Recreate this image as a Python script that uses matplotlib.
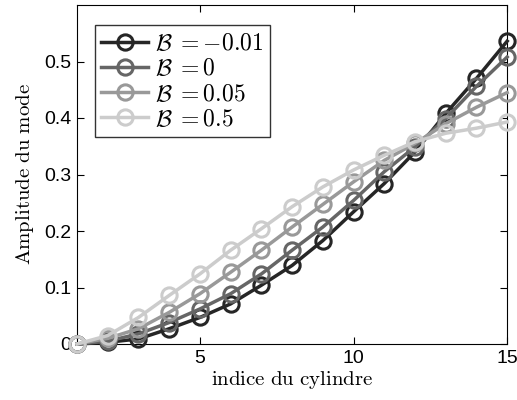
import numpy as np
import matplotlib
matplotlib.use("Agg")
import matplotlib.pyplot as plt
from matplotlib.ticker import FuncFormatter

plt.rcParams['mathtext.fontset'] = 'cm'

# indice du cylindre
indice = np.arange(1, 16)

# amplitudes
amp_m001 = [0.000, 0.003, 0.009, 0.027, 0.047, 0.071, 0.104, 0.139, 0.183, 0.234, 0.284, 0.340, 0.408, 0.470, 0.536]
amp_0    = [0.000, 0.005, 0.018, 0.038, 0.062, 0.089, 0.124, 0.166, 0.207, 0.254, 0.305, 0.349, 0.399, 0.456, 0.508]
amp_005  = [0.000, 0.010, 0.027, 0.056, 0.089, 0.127, 0.166, 0.207, 0.247, 0.287, 0.325, 0.355, 0.390, 0.419, 0.445]
amp_05   = [0.000, 0.015, 0.047, 0.086, 0.124, 0.166, 0.204, 0.243, 0.278, 0.308, 0.334, 0.358, 0.373, 0.382, 0.393]

series = [amp_m001, amp_0, amp_005, amp_05]
labels = [r'$\mathcal{B}\;={-}0.01$', r'$\mathcal{B}\;=0$', r'$\mathcal{B}\;=0.05$', r'$\mathcal{B}\;=0.5$']
couleurs = ['#262626', '#666666', '#999999', '#cccccc']

fig = plt.figure(figsize=(5.17, 4.0), dpi=100)
ax = fig.add_axes([0.149, 0.14, 0.832, 0.8475])

for y, lab, c in zip(series, labels, couleurs):
    ax.plot(indice, y, '-o', color=c, lw=2.5, markersize=11, mew=2.2,
            markerfacecolor='none', label=lab, clip_on=False, zorder=3)

ax.set_xlim(1, 15)
ax.set_ylim(0, 0.6)
ax.set_xticks([5, 10, 15])
ax.set_yticks([0, 0.1, 0.2, 0.3, 0.4, 0.5])
ax.yaxis.set_major_formatter(FuncFormatter(lambda v, p: '0' if v == 0 else '%g' % v))
ax.tick_params(direction='in', top=True, right=True, length=5, width=0.8,
               labelsize=14, pad=4)
for lab in ax.get_xticklabels() + ax.get_yticklabels():
    lab.set_fontfamily('Liberation Sans')

ax.set_xlabel(r'$\mathrm{indice\ du\ cylindre}$', fontsize=15, labelpad=2)
ax.set_ylabel(r'$\mathrm{Amplitude\ du\ mode}$', fontsize=15, labelpad=6)

leg = ax.legend(loc='upper left', fontsize=17, frameon=True, fancybox=False,
                edgecolor='black', handlelength=2.0, handletextpad=0.3,
                borderpad=0.25, labelspacing=0.05, bbox_to_anchor=(0.015, 0.975))
leg.get_frame().set_linewidth(1.0)

fig.savefig('out.png', dpi=100)
